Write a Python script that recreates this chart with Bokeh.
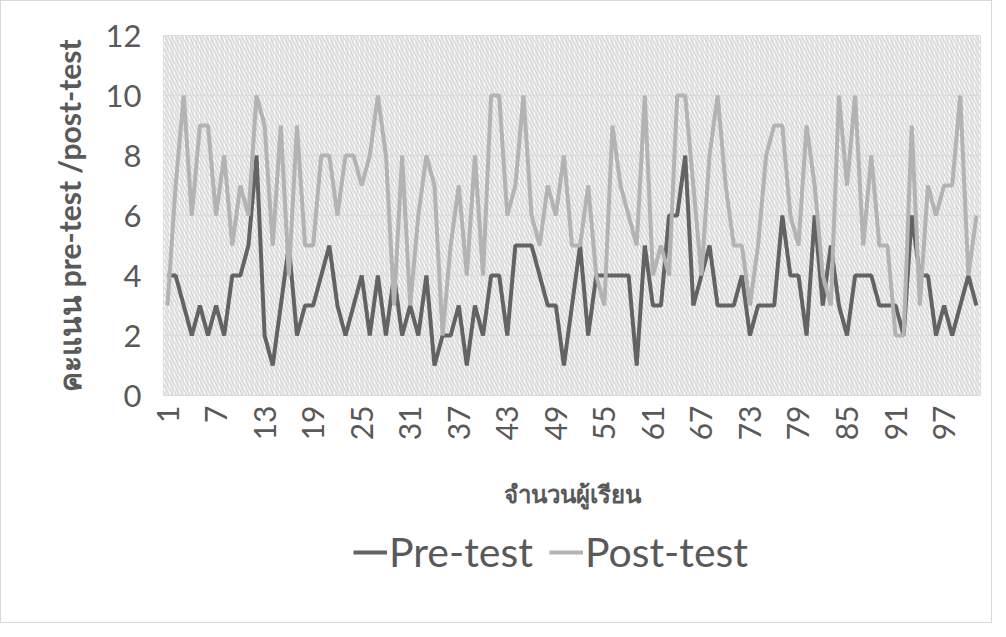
import numpy as np
from bokeh.plotting import figure
from bokeh.layouts import column
from bokeh.models import Range1d, FixedTicker, BoxAnnotation, Legend, LegendItem
from bokeh.embed import file_html
from bokeh.resources import INLINE

# ---- data ----
students = list(range(1, 102))
pre_test = [4, 4, 3, 2, 3, 2, 3, 2, 4, 4, 5, 8, 2, 1, 3, 5, 2, 3, 3, 4,
            5, 3, 2, 3, 4, 2, 4, 2, 4, 2, 3, 2, 4, 1, 2, 2, 3, 1, 3, 2,
            4, 4, 2, 5, 5, 5, 4, 3, 3, 1, 3, 5, 2, 4, 4, 4, 4, 4, 1, 5,
            3, 3, 6, 6, 8, 3, 4, 5, 3, 3, 3, 4, 2, 3, 3, 3, 6, 4, 4, 2,
            6, 3, 5, 3, 2, 4, 4, 4, 3, 3, 3, 2, 6, 4, 4, 2, 3, 2, 3, 4,
            3]
post_test = [3, 7, 10, 6, 9, 9, 6, 8, 5, 7, 6, 10, 9, 5, 9, 4, 9, 5, 5, 8,
             8, 6, 8, 8, 7, 8, 10, 8, 3, 8, 3, 6, 8, 7, 2, 5, 7, 4, 8, 4,
             10, 10, 6, 7, 10, 6, 5, 7, 6, 8, 5, 5, 7, 4, 3, 9, 7, 6, 5, 10,
             4, 5, 4, 10, 10, 7, 4, 8, 10, 7, 5, 5, 3, 5, 8, 9, 9, 6, 5, 9,
             7, 4, 3, 10, 7, 10, 5, 8, 5, 5, 2, 2, 9, 3, 7, 6, 7, 7, 10, 4,
             6]
x_tick_labels = [1, 7, 13, 19, 25, 31, 37, 43, 49, 55, 61, 67, 73, 79, 85, 91, 97]
y_ticks = [0, 2, 4, 6, 8, 10, 12]

TEXT = "#595959"
FONT = "Lato"
PRE_COLOR = "#636363"
POST_COLOR = "#b3b3b3"

p = figure(width=990, height=510, output_backend="svg", toolbar_location=None,
           x_range=Range1d(0.5, 101.5), y_range=Range1d(0, 12),
           min_border_left=162, min_border_right=11, min_border_top=34,
           min_border_bottom=111)

p.background_fill_color = "white"
p.border_fill_color = "white"
p.outline_line_color = "#d9d9d9"

# patterned plot-area background
bg1 = BoxAnnotation(fill_color="#ebebeb", fill_alpha=1.0, line_color=None,
                    hatch_pattern="|", hatch_color="white", hatch_scale=5,
                    hatch_weight=1.2, level="image")
bg2 = BoxAnnotation(fill_alpha=0.0, line_color=None,
                    hatch_pattern="\\", hatch_color="#d4d4d4", hatch_scale=7,
                    hatch_weight=1.2, level="image")
p.add_layout(bg1)
p.add_layout(bg2)

p.xgrid.visible = False
p.ygrid.grid_line_color = "#dcdcdc"
p.ygrid.grid_line_width = 1.5
p.ygrid.level = "underlay"

r_pre = p.line(students, pre_test, line_color=PRE_COLOR, line_width=4)
r_post = p.line(students, post_test, line_color=POST_COLOR, line_width=4)

# axes
p.yaxis.ticker = FixedTicker(ticks=y_ticks)
p.xaxis.ticker = FixedTicker(ticks=x_tick_labels)
for ax in (p.xaxis[0], p.yaxis[0]):
    ax.major_tick_line_color = None
    ax.minor_tick_line_color = None
    ax.major_tick_out = 0
    ax.major_label_text_font = FONT
    ax.major_label_text_color = TEXT
    ax.axis_label_text_color = TEXT
    ax.axis_label_text_font_style = "bold"
p.yaxis.axis_line_color = None
p.xaxis.axis_line_color = "#d9d9d9"
p.yaxis.major_label_text_font_size = "31px"
p.xaxis.major_label_text_font_size = "30px"
p.xaxis.major_label_orientation = np.pi / 2
p.yaxis.major_label_standoff = 22
p.xaxis.major_label_standoff = 10

p.yaxis.axis_label = "คะแนน pre-test /post-test"
p.yaxis.axis_label_text_font = FONT
p.yaxis.axis_label_text_font_size = "30px"
p.yaxis.axis_label_standoff = 16
p.xaxis.axis_label = "จำนวนผู้เรียน"
p.xaxis.axis_label_text_font = FONT
p.xaxis.axis_label_text_font_size = "24px"
p.xaxis.axis_label_standoff = 36

# legend in its own strip below the chart
lg = figure(width=990, height=111, output_backend="svg", toolbar_location=None,
            x_range=Range1d(0, 1), y_range=Range1d(0, 1),
            min_border=0, min_border_left=0, min_border_right=0,
            min_border_top=0, min_border_bottom=0)
lg.axis.visible = False
lg.grid.visible = False
lg.outline_line_color = None
lg.background_fill_color = "white"
lg.border_fill_color = "white"
# proxy renderers (outside the visible range) only to draw the legend keys
l_pre = lg.line([5, 6], [5, 6], line_color=PRE_COLOR, line_width=4)
l_post = lg.line([5, 6], [5, 6], line_color=POST_COLOR, line_width=4)

legend = Legend(items=[LegendItem(label="Pre-test", renderers=[l_pre]),
                       LegendItem(label="Post-test", renderers=[l_post])],
                orientation="horizontal", location=(190, 46),
                label_text_font=FONT, label_text_font_size="41px",
                label_text_color=TEXT, glyph_width=34, glyph_height=30,
                label_standoff=2, spacing=16,
                border_line_color=None, background_fill_alpha=0.0)
lg.add_layout(legend)

layout = column(p, lg, spacing=0, styles={"border": "1px solid #d9d9d9"})

open("out.html", "w").write(file_html(layout, INLINE))
